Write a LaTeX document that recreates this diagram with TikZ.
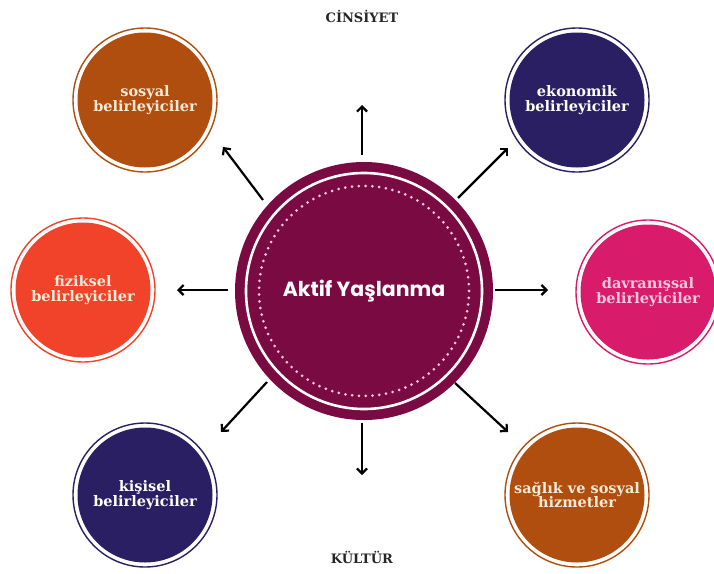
\documentclass[tikz,border=0pt]{standalone}
\usepackage{fontspec}
\setmainfont{DejaVu Serif}
\newfontfamily\popfont{Poppins}
\usetikzlibrary{arrows.meta}
\definecolor{cbrown}{HTML}{B04E0F}
\definecolor{cnavy}{HTML}{2A1F63}
\definecolor{cred}{HTML}{F0432A}
\definecolor{cmag}{HTML}{D81B6A}
\definecolor{cmaroon}{HTML}{7A0A42}
\definecolor{ccream}{HTML}{FBEBD6}
\definecolor{cpink}{HTML}{F7C8DC}
\tikzset{
  disc/.style={circle, minimum size=134pt, inner sep=0pt, align=center,
    font=\bfseries\fontsize{14.5}{14.5}\selectfont},
  ringline/.style={line width=1.4pt},
  arr/.style={-{Straight Barb[length=5pt,width=10pt,line width=2.2pt]}, line width=2.2pt, black},
  label/.style={font=\bfseries\fontsize{13}{14}\selectfont, text=black!85}
}
\begin{document}
\begin{tikzpicture}[x=1pt,y=-1pt]
\useasboundingbox (0,0) rectangle (714,573);
% centre
\fill[cmaroon] (364,291) circle (129);
\draw[white, line width=2.6pt] (364,291) circle (118);
\draw[cpink, line width=3pt, line cap=round, dash pattern=on 0pt off 6.8pt] (364,291) circle (105);
\node[text=white, font=\popfont\bfseries\fontsize{20.5}{22}\selectfont] (c) at (364,291) {Aktif Yaşlanma};
% small circles
\foreach \n/\x/\y/\col in {
  sos/145/100/cbrown,
  eko/577/100/cnavy,
  fiz/83/290/cred,
  dav/648/292/cmag,
  kis/145/495/cnavy,
  sag/577/495/cbrown}{
  \draw[\col, ringline] (\x,\y) circle (72);
  \fill[\col] (\x,\y) circle (67.5);
}
\node[disc, text=ccream] (sosyal) at (145,100) {sosyal\\belirleyiciler};
\node[disc, text=white] (ekonomik) at (577,100) {ekonomik\\belirleyiciler};
\node[disc, text=ccream] (fiziksel) at (83,290) {fiziksel\\belirleyiciler};
\node[disc, text=cpink] (davranis) at (648,292) {davranışsal\\belirleyiciler};
\node[disc, text=white] (kisisel) at (145,495) {kişisel\\belirleyiciler};
\node[disc, text=ccream] (saglik) at (577,495) {sağlık ve sosyal\\hizmetler};
% labels
\node[label] (cins) at (362,16) {CİNSİYET};
\node[label] (kult) at (362,557) {KÜLTÜR};
% arrow endpoints
\coordinate (uS) at (362,155); \coordinate (uE) at (362,105);
\coordinate (dS) at (362,423); \coordinate (dE) at (362,475);
\coordinate (lS) at (228,290); \coordinate (lE) at (177,290);
\coordinate (rS) at (495,290); \coordinate (rE) at (548,290);
\coordinate (ulS) at (263,200); \coordinate (ulE) at (223,147);
\coordinate (urS) at (458,198); \coordinate (urE) at (508,148);
\coordinate (llS) at (267,382); \coordinate (llE) at (221,432);
\coordinate (lrS) at (455,383); \coordinate (lrE) at (508,432);
\draw[arr] (uS) -- (uE);
\draw[arr] (dS) -- (dE);
\draw[arr] (lS) -- (lE);
\draw[arr] (rS) -- (rE);
\draw[arr] (ulS) -- (ulE);
\draw[arr] (urS) -- (urE);
\draw[arr] (llS) -- (llE);
\draw[arr] (lrS) -- (lrE);
\end{tikzpicture}
\end{document}
